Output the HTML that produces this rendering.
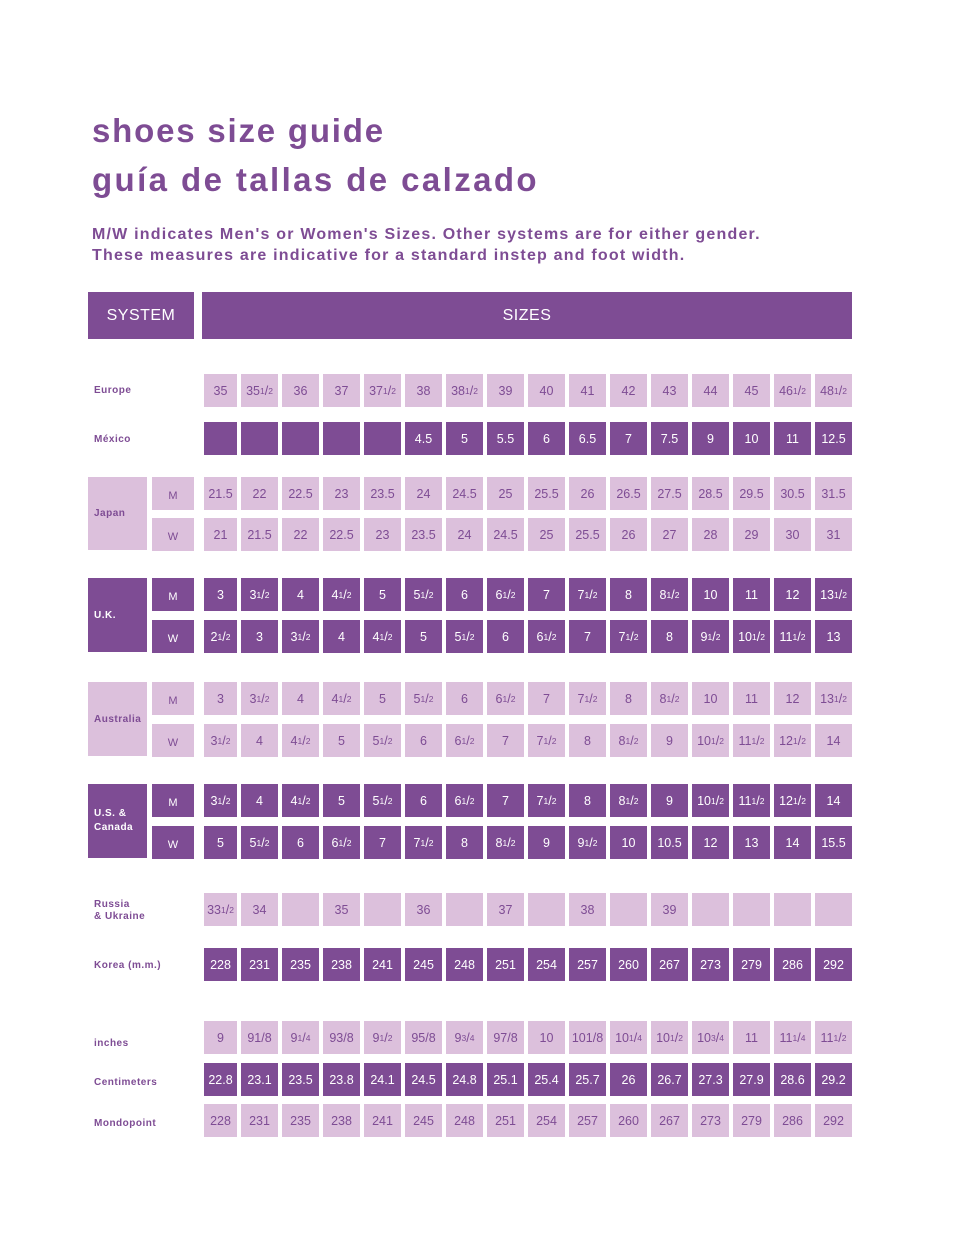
<!DOCTYPE html>
<html><head><meta charset="utf-8"><style>
body{margin:0;width:960px;height:1249px;background:#fff;position:relative;font-family:"Liberation Sans",sans-serif;color:#7e4c94;overflow:hidden}
.t{position:absolute;left:92px;font-size:33px;font-weight:bold;letter-spacing:2.1px;margin:0;line-height:1}
.s{position:absolute;left:92px;font-size:16px;font-weight:bold;letter-spacing:1.2px;line-height:21px;top:224px}
.b{position:absolute;box-sizing:border-box;display:flex;align-items:center;justify-content:center;font-size:12px}
.d{background:#7e4c94;color:#fff}
.l{background:#dcc0dc;color:#7e4c94}
.h{font-size:16px;letter-spacing:0.5px}
.r{position:absolute;left:204px;display:flex;gap:4px;height:33px}
.r div{width:37px;height:100%;display:flex;align-items:center;justify-content:center;font-size:12.5px}
.r div:first-child{width:33px}
.r.d div{background:#7e4c94;color:#fff}
.r.l div{background:#dcc0dc;color:#7e4c94}
.r.d,.r.l{background:none}
sup,sub{font-size:8.5px;line-height:0}
sup{vertical-align:4px}sub{vertical-align:-2px}
.lab{position:absolute;left:94px;font-size:10px;font-weight:bold;letter-spacing:0.5px;line-height:12px}
.g{position:absolute;box-sizing:border-box;font-size:10px;font-weight:bold;letter-spacing:0.5px;padding-left:6px;display:flex;align-items:center}
.mw{position:absolute;left:152px;width:42px;height:33px;display:flex;align-items:center;justify-content:center;font-size:11px;padding-top:4px;box-sizing:border-box}
</style></head><body>
<div class="t" style="top:114px;letter-spacing:1.8px">shoes size guide</div>
<div class="t" style="top:163px;letter-spacing:2.4px">guía de tallas de calzado</div>
<div class="s">M/W indicates Men's or Women's Sizes. Other systems are for either gender.<br>These measures are indicative for a standard instep and foot width.</div>

<div class="b d h" style="left:88px;top:292px;width:106px;height:47px">SYSTEM</div>
<div class="b d h" style="left:202px;top:292px;width:650px;height:47px">SIZES</div>

<div class="lab" style="top:385px">Europe</div>
<div class="r l" style="top:374px"><div>35</div><div>35<sup>1</sup>/<sub>2</sub></div><div>36</div><div>37</div><div>37<sup>1</sup>/<sub>2</sub></div><div>38</div><div>38<sup>1</sup>/<sub>2</sub></div><div>39</div><div>40</div><div>41</div><div>42</div><div>43</div><div>44</div><div>45</div><div>46<sup>1</sup>/<sub>2</sub></div><div>48<sup>1</sup>/<sub>2</sub></div></div>

<div class="lab" style="top:434px">México</div>
<div class="r d" style="top:422px"><div></div><div></div><div></div><div></div><div></div><div>4.5</div><div>5</div><div>5.5</div><div>6</div><div>6.5</div><div>7</div><div>7.5</div><div>9</div><div>10</div><div>11</div><div>12.5</div></div>

<div class="g l" style="left:88px;top:477px;width:59px;height:73px">Japan</div>
<div class="mw l" style="top:477px">M</div><div class="mw l" style="top:518px">W</div>
<div class="r l" style="top:477px"><div>21.5</div><div>22</div><div>22.5</div><div>23</div><div>23.5</div><div>24</div><div>24.5</div><div>25</div><div>25.5</div><div>26</div><div>26.5</div><div>27.5</div><div>28.5</div><div>29.5</div><div>30.5</div><div>31.5</div></div>
<div class="r l" style="top:518px"><div>21</div><div>21.5</div><div>22</div><div>22.5</div><div>23</div><div>23.5</div><div>24</div><div>24.5</div><div>25</div><div>25.5</div><div>26</div><div>27</div><div>28</div><div>29</div><div>30</div><div>31</div></div>

<div class="g d" style="left:88px;top:578px;width:59px;height:74px;align-items:flex-start;padding-top:32px">U.K.</div>
<div class="mw d" style="top:578px">M</div><div class="mw d" style="top:620px">W</div>
<div class="r d" style="top:578px"><div>3</div><div>3<sup>1</sup>/<sub>2</sub></div><div>4</div><div>4<sup>1</sup>/<sub>2</sub></div><div>5</div><div>5<sup>1</sup>/<sub>2</sub></div><div>6</div><div>6<sup>1</sup>/<sub>2</sub></div><div>7</div><div>7<sup>1</sup>/<sub>2</sub></div><div>8</div><div>8<sup>1</sup>/<sub>2</sub></div><div>10</div><div>11</div><div>12</div><div>13<sup>1</sup>/<sub>2</sub></div></div>
<div class="r d" style="top:620px"><div>2<sup>1</sup>/<sub>2</sub></div><div>3</div><div>3<sup>1</sup>/<sub>2</sub></div><div>4</div><div>4<sup>1</sup>/<sub>2</sub></div><div>5</div><div>5<sup>1</sup>/<sub>2</sub></div><div>6</div><div>6<sup>1</sup>/<sub>2</sub></div><div>7</div><div>7<sup>1</sup>/<sub>2</sub></div><div>8</div><div>9<sup>1</sup>/<sub>2</sub></div><div>10<sup>1</sup>/<sub>2</sub></div><div>11<sup>1</sup>/<sub>2</sub></div><div>13</div></div>

<div class="g l" style="left:88px;top:682px;width:59px;height:74px">Australia</div>
<div class="mw l" style="top:682px">M</div><div class="mw l" style="top:724px">W</div>
<div class="r l" style="top:682px"><div>3</div><div>3<sup>1</sup>/<sub>2</sub></div><div>4</div><div>4<sup>1</sup>/<sub>2</sub></div><div>5</div><div>5<sup>1</sup>/<sub>2</sub></div><div>6</div><div>6<sup>1</sup>/<sub>2</sub></div><div>7</div><div>7<sup>1</sup>/<sub>2</sub></div><div>8</div><div>8<sup>1</sup>/<sub>2</sub></div><div>10</div><div>11</div><div>12</div><div>13<sup>1</sup>/<sub>2</sub></div></div>
<div class="r l" style="top:724px"><div>3<sup>1</sup>/<sub>2</sub></div><div>4</div><div>4<sup>1</sup>/<sub>2</sub></div><div>5</div><div>5<sup>1</sup>/<sub>2</sub></div><div>6</div><div>6<sup>1</sup>/<sub>2</sub></div><div>7</div><div>7<sup>1</sup>/<sub>2</sub></div><div>8</div><div>8<sup>1</sup>/<sub>2</sub></div><div>9</div><div>10<sup>1</sup>/<sub>2</sub></div><div>11<sup>1</sup>/<sub>2</sub></div><div>12<sup>1</sup>/<sub>2</sub></div><div>14</div></div>

<div class="g d" style="left:88px;top:784px;width:59px;height:74px;line-height:14px">U.S. &amp;<br>Canada</div>
<div class="mw d" style="top:784px">M</div><div class="mw d" style="top:826px">W</div>
<div class="r d" style="top:784px"><div>3<sup>1</sup>/<sub>2</sub></div><div>4</div><div>4<sup>1</sup>/<sub>2</sub></div><div>5</div><div>5<sup>1</sup>/<sub>2</sub></div><div>6</div><div>6<sup>1</sup>/<sub>2</sub></div><div>7</div><div>7<sup>1</sup>/<sub>2</sub></div><div>8</div><div>8<sup>1</sup>/<sub>2</sub></div><div>9</div><div>10<sup>1</sup>/<sub>2</sub></div><div>11<sup>1</sup>/<sub>2</sub></div><div>12<sup>1</sup>/<sub>2</sub></div><div>14</div></div>
<div class="r d" style="top:826px"><div>5</div><div>5<sup>1</sup>/<sub>2</sub></div><div>6</div><div>6<sup>1</sup>/<sub>2</sub></div><div>7</div><div>7<sup>1</sup>/<sub>2</sub></div><div>8</div><div>8<sup>1</sup>/<sub>2</sub></div><div>9</div><div>9<sup>1</sup>/<sub>2</sub></div><div>10</div><div>10.5</div><div>12</div><div>13</div><div>14</div><div>15.5</div></div>

<div class="lab" style="top:899px">Russia<br>&amp; Ukraine</div>
<div class="r l" style="top:893px"><div>33<sup>1</sup>/<sub>2</sub></div><div>34</div><div></div><div>35</div><div></div><div>36</div><div></div><div>37</div><div></div><div>38</div><div></div><div>39</div><div></div><div></div><div></div><div></div></div>

<div class="lab" style="top:960px">Korea (m.m.)</div>
<div class="r d" style="top:948px"><div>228</div><div>231</div><div>235</div><div>238</div><div>241</div><div>245</div><div>248</div><div>251</div><div>254</div><div>257</div><div>260</div><div>267</div><div>273</div><div>279</div><div>286</div><div>292</div></div>

<div class="lab" style="top:1038px">inches</div>
<div class="r l" style="top:1021px"><div>9</div><div>91/8</div><div>9<sup>1</sup>/<sub>4</sub></div><div>93/8</div><div>9<sup>1</sup>/<sub>2</sub></div><div>95/8</div><div>9<sup>3</sup>/<sub>4</sub></div><div>97/8</div><div>10</div><div>101/8</div><div>10<sup>1</sup>/<sub>4</sub></div><div>10<sup>1</sup>/<sub>2</sub></div><div>10<sup>3</sup>/<sub>4</sub></div><div>11</div><div>11<sup>1</sup>/<sub>4</sub></div><div>11<sup>1</sup>/<sub>2</sub></div></div>

<div class="lab" style="top:1077px">Centimeters</div>
<div class="r d" style="top:1063px"><div>22.8</div><div>23.1</div><div>23.5</div><div>23.8</div><div>24.1</div><div>24.5</div><div>24.8</div><div>25.1</div><div>25.4</div><div>25.7</div><div>26</div><div>26.7</div><div>27.3</div><div>27.9</div><div>28.6</div><div>29.2</div></div>

<div class="lab" style="top:1118px">Mondopoint</div>
<div class="r l" style="top:1104px"><div>228</div><div>231</div><div>235</div><div>238</div><div>241</div><div>245</div><div>248</div><div>251</div><div>254</div><div>257</div><div>260</div><div>267</div><div>273</div><div>279</div><div>286</div><div>292</div></div>
</body></html>
